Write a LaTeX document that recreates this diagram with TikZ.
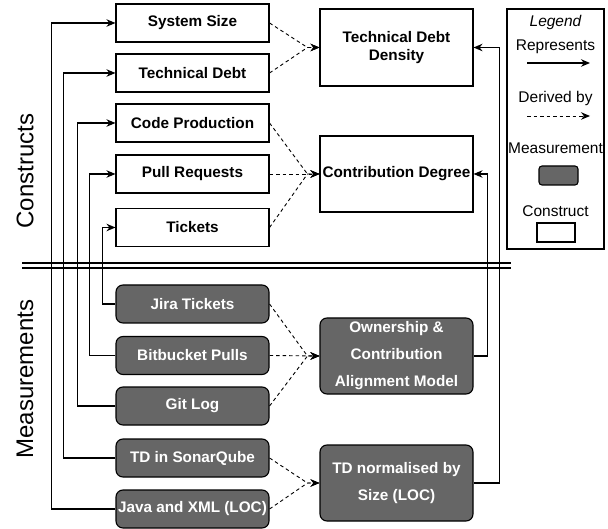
\documentclass[tikz,border=0pt]{standalone}
\usepackage{fontspec}
\setmainfont{Liberation Sans}
\usetikzlibrary{arrows.meta}
\definecolor{measgray}{HTML}{666666}
\begin{document}
\begin{tikzpicture}[x=1pt,y=-1pt,line width=1.1pt,
    construct/.style={draw,fill=white,minimum width=153pt,minimum height=38pt,font=\fontsize{15.3}{18.5}\selectfont\bfseries},
    measurement/.style={construct,fill=measgray,text=white,rounded corners=7pt},
    bigbox/.style={construct,minimum height=77pt,align=center},
    rep/.style={-{Stealth[length=9pt,width=7.5pt]}},
    der/.style={rep,dashed,dash pattern=on 3.5pt off 3pt,line width=0.9pt},
    plain/.style={font=\fontsize{15.5}{18}\selectfont,inner sep=0pt}]
\useasboundingbox (0,0) rectangle (608,529);
\node[plain,rotate=90,font=\fontsize{24}{27}\selectfont] (lconstr) at (25,171) {Constructs};
\node[plain,rotate=90,font=\fontsize{24}{27}\selectfont] (lmeas) at (25,379) {Measurements};
\draw (22,263) -- (511,263);
\draw (22,268) -- (511,268);
\node[construct] (size) at (192.5,23) {System Size};
\node[construct] (debt) at (192.5,73) {Technical Debt};
\node[construct] (code) at (192.5,123) {Code Production};
\node[construct] (pulls) at (192.5,174) {Pull Requests};
\node[construct] (tickets) at (192.5,227.5) {Tickets};
\node[bigbox] (density) at (396.5,47.5) {Technical Debt\\Density};
\node[bigbox,minimum height=76pt,inner sep=0pt] (degree) at (396.5,174) {Contribution Degree};
\node[measurement] (jira) at (192.5,304) {Jira Tickets};
\node[measurement] (bitbucket) at (192.5,355.5) {Bitbucket Pulls};
\node[measurement] (gitlog) at (192.5,406) {Git Log};
\node[measurement] (sonar) at (192.5,458) {TD in SonarQube};
\node[measurement,inner sep=0pt] (loc) at (192.5,509) {Java and XML (LOC)};
\node[measurement,minimum height=76pt,align=center,font=\fontsize{15.3}{27}\selectfont\bfseries] (ocam) at (396.5,356) {Ownership \&\\Contribution\\Alignment Model};
\node[measurement,minimum height=76pt,align=center,font=\fontsize{15.3}{27}\selectfont\bfseries] (tdnorm) at (396.5,483) {TD normalised by\\Size (LOC)};
\draw[der] (size.east) -- ([xshift=-12pt]density.west) -- (density.west);
\draw[der] (debt.east) -- ([xshift=-12pt]density.west) -- (density.west);
\draw[der] (code.east) -- ([xshift=-12pt]degree.west) -- (degree.west);
\draw[der] (pulls.east) -- (degree.west);
\draw[der] (tickets.east) -- ([xshift=-12pt]degree.west) -- (degree.west);
\draw[der] (jira.east) -- ([xshift=-12pt]ocam.west) -- (ocam.west);
\draw[der] (bitbucket.east) -- (ocam.west);
\draw[der] (gitlog.east) -- ([xshift=-12pt]ocam.west) -- (ocam.west);
\draw[der] (sonar.east) -- ([xshift=-12pt]tdnorm.west) -- (tdnorm.west);
\draw[der] (loc.east) -- ([xshift=-12pt]tdnorm.west) -- (tdnorm.west);
\draw[rep] (jira.west) -- ++(-13,0) |- (tickets.west);
\draw[rep] (bitbucket.west) -- ++(-26,0) |- (pulls.west);
\draw[rep] (gitlog.west) -- ++(-38,0) |- (code.west);
\draw[rep] (sonar.west) -- ++(-52,0) |- (debt.west);
\draw[rep] (loc.west) -- ++(-64,0) |- (size.west);
\draw[rep] (ocam.east) -- ++(14,0) |- (degree.east);
\draw[rep] (tdnorm.east) -- ++(26,0) |- (density.east);
\node[draw,minimum width=97pt,minimum height=240pt] (legend) at (555.5,129) {};
\node[plain,font=\fontsize{15.5}{18}\selectfont\itshape] (ltitle) at (555.5,22) {Legend};
\node[plain] (lrep) at (555.5,47) {Represents};
\coordinate (repa) at (527,63);
\coordinate (repb) at (590,63);
\draw[rep] (repa) -- (repb);
\node[plain] (lder) at (555.5,98) {Derived by};
\coordinate (dera) at (527,116);
\coordinate (derb) at (590,116);
\draw[der] (dera) -- (derb);
\node[plain] (lmeasure) at (555.5,148) {Measurement};
\node[draw,fill=measgray,rounded corners=3pt,minimum width=39pt,minimum height=19pt] (keymeas) at (558.5,175.5) {};
\node[plain] (lconstruct) at (555.5,211) {Construct};
\node[draw,fill=white,minimum width=38pt,minimum height=19pt] (keyconstr) at (556,232.5) {};
\end{tikzpicture}
\end{document}
